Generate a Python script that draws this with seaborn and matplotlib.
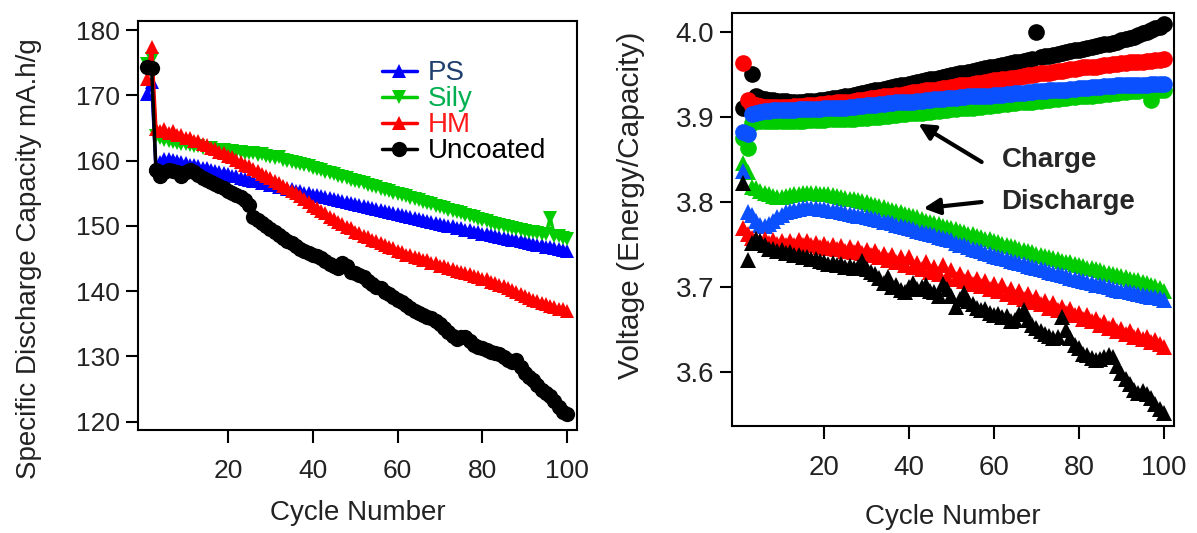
import matplotlib
matplotlib.use("Agg")
import matplotlib.pyplot as plt
import seaborn as sns
import pandas as pd

# ---------------- data ----------------
cycles = list(range(1, 101))

# Left panel: specific discharge capacity (mA.h/g)
ps_cap = [170.2, 172.0, 159.2, 159.8, 160.2, 160.3, 160.1, 160.0, 159.8, 159.6,
          159.4, 159.3, 159.1, 158.9, 158.8, 158.6, 158.4, 158.3, 158.1, 157.9,
          157.7, 157.6, 157.4, 157.2, 157.1, 156.9, 156.8, 156.6, 156.5, 156.3,
          156.2, 156.0, 155.9, 155.7, 155.6, 155.4, 155.3, 155.1, 155.0, 154.8,
          154.7, 154.5, 154.4, 154.2, 154.1, 153.9, 153.8, 153.6, 153.5, 153.3,
          153.2, 153.0, 152.9, 152.7, 152.6, 152.4, 152.3, 152.1, 152.0, 151.8,
          151.7, 151.5, 151.4, 151.2, 151.1, 150.9, 150.8, 150.6, 150.5, 150.3,
          150.2, 150.0, 149.9, 149.7, 149.6, 149.4, 149.3, 149.1, 149.0, 148.8,
          148.7, 148.6, 148.4, 148.3, 148.2, 148.0, 147.9, 147.8, 147.6, 147.5,
          147.4, 147.2, 147.1, 147.0, 146.8, 146.7, 146.6, 146.4, 146.3, 146.1]
sily_cap = [174.8, 175.5, 163.8, 163.4, 163.2, 163.0, 162.9, 162.7, 162.6, 162.5,
            162.4, 162.2, 162.2, 162.0, 161.9, 161.9, 161.7, 161.7, 161.6, 161.5,
            161.5, 161.3, 161.3, 161.2, 161.1, 161.1, 160.9, 161.0, 160.7, 160.6,
            160.4, 160.6, 160.1, 159.9, 159.8, 159.6, 159.5, 159.3, 159.1, 158.9,
            158.7, 158.5, 158.3, 158.1, 157.9, 157.7, 157.5, 157.3, 157.1, 156.9,
            156.7, 156.5, 156.3, 156.1, 155.9, 155.7, 155.5, 155.3, 155.1, 154.9,
            154.7, 154.5, 154.3, 154.1, 153.9, 153.7, 153.5, 153.3, 153.1, 152.9,
            152.7, 152.5, 152.3, 152.1, 151.9, 151.7, 151.5, 151.3, 151.1, 150.9,
            150.7, 150.5, 150.3, 150.1, 149.9, 149.8, 149.6, 149.5, 149.3, 149.2,
            149.1, 149.0, 148.9, 148.8, 148.7, 151.2, 148.5, 148.4, 148.2, 148.0]
hm_cap = [172.5, 177.4, 164.9, 164.6, 164.8, 164.3, 164.5, 163.9, 164.0, 163.5,
          163.5, 163.0, 163.0, 162.5, 162.4, 161.9, 161.8, 161.3, 161.2, 160.7,
          160.5, 160.1, 159.8, 159.4, 159.1, 158.7, 158.4, 158.0, 157.7, 157.3,
          156.9, 156.6, 156.1, 155.8, 155.3, 155.0, 154.5, 154.1, 153.6, 153.1,
          152.7, 152.3, 151.9, 151.4, 151.1, 150.6, 150.3, 149.8, 149.6, 149.1,
          148.9, 148.5, 148.3, 147.9, 147.7, 147.3, 147.1, 146.8, 146.6, 146.2,
          146.0, 145.6, 145.5, 145.2, 145.1, 144.7, 144.7, 144.3, 144.3, 143.9,
          143.8, 143.5, 143.4, 143.1, 143.0, 142.7, 142.6, 142.3, 142.2, 141.9,
          141.8, 141.4, 141.3, 140.9, 140.8, 140.4, 140.2, 139.8, 139.6, 139.2,
          139.0, 138.6, 138.5, 138.1, 138.0, 137.7, 137.6, 137.3, 137.2, 137.0]
unc_cap = [174.3, 174.2, 158.6, 157.7, 158.3, 158.6, 158.4, 158.2, 157.6, 158.3,
           158.5, 158.2, 157.8, 157.3, 157.0, 156.7, 156.4, 156.1, 155.8, 155.4,
           155.0, 154.7, 154.4, 153.9, 153.2, 151.3, 150.9, 150.5, 150.0, 149.5,
           149.0, 148.6, 148.1, 147.7, 147.3, 146.9, 146.4, 146.1, 145.8, 145.5,
           145.3, 145.1, 144.6, 144.2, 143.8, 143.6, 144.3, 143.9, 142.9, 142.7,
           142.4, 142.1, 141.6, 141.1, 140.7, 140.4, 139.9, 139.5, 139.1, 138.7,
           138.4, 137.9, 137.4, 137.0, 136.7, 136.4, 136.1, 135.8, 135.4, 134.9,
           134.3, 133.7, 133.1, 132.6, 132.9, 133.0, 132.3, 131.7, 131.4, 131.3,
           131.0, 130.7, 130.5, 130.3, 129.9, 129.4, 129.2, 129.4, 128.3, 127.5,
           126.9, 126.3, 125.6, 124.8, 124.3, 123.9, 123.2, 122.2, 121.4, 121.1]

# Right panel: average voltage (Energy/Capacity), charge
unc_chg = [3.910, 3.912, 3.950, 3.924, 3.922, 3.921, 3.920, 3.920, 3.919, 3.919,
           3.919, 3.918, 3.918, 3.918, 3.918, 3.919, 3.919, 3.919, 3.920, 3.920,
           3.921, 3.922, 3.922, 3.923, 3.924, 3.925, 3.926, 3.927, 3.928, 3.929,
           3.930, 3.931, 3.932, 3.933, 3.934, 3.935, 3.936, 3.937, 3.938, 3.939,
           3.940, 3.941, 3.942, 3.943, 3.944, 3.945, 3.946, 3.947, 3.948, 3.949,
           3.950, 3.951, 3.952, 3.953, 3.954, 3.955, 3.956, 3.957, 3.958, 3.959,
           3.960, 3.961, 3.962, 3.963, 3.964, 3.965, 3.966, 3.967, 3.968, 4.000,
           3.970, 3.971, 3.972, 3.973, 3.974, 3.975, 3.976, 3.977, 3.978, 3.979,
           3.980, 3.981, 3.982, 3.983, 3.984, 3.985, 3.986, 3.987, 3.988, 3.990,
           3.991, 3.993, 3.994, 3.996, 3.998, 4.000, 4.002, 4.004, 4.006, 4.009]
hm_chg = [3.963, 3.920, 3.913, 3.914, 3.913, 3.912, 3.912, 3.912, 3.912, 3.912,
          3.912, 3.912, 3.913, 3.913, 3.913, 3.914, 3.914, 3.914, 3.915, 3.915,
          3.916, 3.916, 3.917, 3.917, 3.918, 3.918, 3.919, 3.920, 3.920, 3.921,
          3.922, 3.922, 3.923, 3.924, 3.924, 3.925, 3.926, 3.926, 3.927, 3.928,
          3.929, 3.929, 3.930, 3.931, 3.931, 3.932, 3.933, 3.934, 3.934, 3.935,
          3.936, 3.937, 3.937, 3.938, 3.939, 3.940, 3.940, 3.941, 3.942, 3.943,
          3.943, 3.944, 3.945, 3.946, 3.946, 3.947, 3.948, 3.949, 3.949, 3.950,
          3.951, 3.952, 3.952, 3.953, 3.954, 3.954, 3.955, 3.956, 3.956, 3.957,
          3.958, 3.958, 3.959, 3.959, 3.960, 3.961, 3.961, 3.962, 3.962, 3.963,
          3.963, 3.964, 3.964, 3.965, 3.965, 3.966, 3.966, 3.967, 3.967, 3.968]
ps_chg = [3.882, 3.880, 3.903, 3.905, 3.906, 3.907, 3.907, 3.908, 3.908, 3.908,
          3.908, 3.908, 3.908, 3.909, 3.909, 3.909, 3.909, 3.909, 3.909, 3.910,
          3.910, 3.910, 3.911, 3.911, 3.911, 3.912, 3.912, 3.913, 3.913, 3.914,
          3.914, 3.914, 3.915, 3.915, 3.916, 3.916, 3.917, 3.917, 3.918, 3.918,
          3.918, 3.919, 3.919, 3.920, 3.920, 3.921, 3.921, 3.921, 3.922, 3.922,
          3.922, 3.923, 3.923, 3.924, 3.924, 3.924, 3.925, 3.925, 3.925, 3.926,
          3.926, 3.926, 3.927, 3.927, 3.928, 3.928, 3.928, 3.929, 3.929, 3.930,
          3.930, 3.930, 3.931, 3.931, 3.932, 3.932, 3.932, 3.933, 3.933, 3.934,
          3.934, 3.934, 3.935, 3.935, 3.935, 3.936, 3.936, 3.936, 3.937, 3.937,
          3.937, 3.937, 3.938, 3.938, 3.938, 3.938, 3.939, 3.939, 3.939, 3.939]
sily_chg = [3.875, 3.864, 3.893, 3.895, 3.895, 3.895, 3.895, 3.895, 3.895, 3.895,
            3.895, 3.895, 3.895, 3.895, 3.895, 3.896, 3.896, 3.896, 3.896, 3.896,
            3.897, 3.897, 3.897, 3.897, 3.898, 3.898, 3.898, 3.899, 3.899, 3.899,
            3.900, 3.900, 3.900, 3.901, 3.901, 3.902, 3.902, 3.903, 3.903, 3.904,
            3.904, 3.905, 3.905, 3.906, 3.906, 3.907, 3.907, 3.908, 3.908, 3.909,
            3.909, 3.910, 3.910, 3.911, 3.911, 3.912, 3.912, 3.913, 3.913, 3.914,
            3.914, 3.915, 3.915, 3.916, 3.916, 3.917, 3.917, 3.918, 3.918, 3.919,
            3.919, 3.920, 3.920, 3.921, 3.921, 3.922, 3.922, 3.923, 3.923, 3.924,
            3.924, 3.925, 3.925, 3.926, 3.926, 3.927, 3.927, 3.928, 3.928, 3.929,
            3.929, 3.930, 3.930, 3.930, 3.931, 3.931, 3.920, 3.931, 3.932, 3.932]

# Right panel: discharge
sily_dis = [3.846, 3.835, 3.818, 3.816, 3.813, 3.811, 3.809, 3.807, 3.806, 3.806,
            3.807, 3.808, 3.809, 3.810, 3.811, 3.811, 3.811, 3.811, 3.810, 3.810,
            3.809, 3.808, 3.807, 3.806, 3.805, 3.804, 3.803, 3.802, 3.801, 3.800,
            3.798, 3.797, 3.795, 3.794, 3.792, 3.791, 3.789, 3.788, 3.786, 3.785,
            3.783, 3.782, 3.780, 3.778, 3.777, 3.775, 3.774, 3.772, 3.771, 3.769,
            3.768, 3.766, 3.765, 3.763, 3.762, 3.760, 3.759, 3.757, 3.756, 3.754,
            3.753, 3.751, 3.750, 3.748, 3.747, 3.745, 3.744, 3.742, 3.741, 3.739,
            3.738, 3.737, 3.735, 3.734, 3.733, 3.731, 3.730, 3.729, 3.727, 3.726,
            3.725, 3.723, 3.722, 3.721, 3.720, 3.718, 3.717, 3.716, 3.714, 3.713,
            3.712, 3.710, 3.709, 3.708, 3.706, 3.705, 3.703, 3.701, 3.699, 3.696]
ps_dis = [3.836, 3.788, 3.785, 3.778, 3.773, 3.772, 3.774, 3.778, 3.782, 3.785,
          3.788, 3.790, 3.791, 3.792, 3.793, 3.793, 3.793, 3.793, 3.792, 3.792,
          3.791, 3.790, 3.789, 3.788, 3.787, 3.786, 3.785, 3.784, 3.783, 3.782,
          3.781, 3.780, 3.779, 3.777, 3.776, 3.775, 3.773, 3.772, 3.771, 3.769,
          3.768, 3.766, 3.765, 3.764, 3.762, 3.761, 3.759, 3.758, 3.756, 3.755,
          3.752, 3.750, 3.749, 3.747, 3.745, 3.744, 3.742, 3.740, 3.739, 3.737,
          3.736, 3.734, 3.733, 3.731, 3.730, 3.728, 3.727, 3.725, 3.724, 3.722,
          3.721, 3.720, 3.718, 3.717, 3.715, 3.714, 3.713, 3.711, 3.710, 3.708,
          3.707, 3.706, 3.705, 3.703, 3.702, 3.701, 3.700, 3.698, 3.697, 3.696,
          3.695, 3.694, 3.693, 3.692, 3.691, 3.690, 3.689, 3.688, 3.687, 3.685]
hm_dis = [3.770, 3.762, 3.758, 3.756, 3.754, 3.756, 3.752, 3.755, 3.751, 3.754,
          3.750, 3.754, 3.750, 3.755, 3.750, 3.754, 3.749, 3.752, 3.747, 3.751,
          3.746, 3.750, 3.745, 3.748, 3.743, 3.747, 3.741, 3.746, 3.740, 3.744,
          3.738, 3.742, 3.735, 3.739, 3.732, 3.738, 3.729, 3.735, 3.726, 3.736,
          3.724, 3.728, 3.721, 3.730, 3.718, 3.724, 3.715, 3.726, 3.712, 3.720,
          3.710, 3.716, 3.707, 3.712, 3.704, 3.710, 3.701, 3.707, 3.698, 3.704,
          3.695, 3.702, 3.692, 3.698, 3.689, 3.695, 3.686, 3.692, 3.683, 3.689,
          3.680, 3.684, 3.676, 3.681, 3.673, 3.677, 3.670, 3.674, 3.667, 3.670,
          3.663, 3.667, 3.660, 3.663, 3.656, 3.659, 3.652, 3.655, 3.649, 3.651,
          3.645, 3.648, 3.642, 3.644, 3.639, 3.641, 3.636, 3.638, 3.633, 3.630]
unc_dis = [3.822, 3.732, 3.752, 3.756, 3.754, 3.750, 3.745, 3.745, 3.742, 3.744,
           3.740, 3.741, 3.738, 3.738, 3.735, 3.736, 3.733, 3.733, 3.731, 3.730,
           3.727, 3.728, 3.726, 3.727, 3.724, 3.725, 3.723, 3.724, 3.731, 3.721,
           3.718, 3.716, 3.711, 3.705, 3.712, 3.700, 3.703, 3.697, 3.694, 3.700,
           3.705, 3.698, 3.700, 3.703, 3.696, 3.694, 3.690, 3.704, 3.698, 3.690,
           3.677, 3.686, 3.693, 3.684, 3.680, 3.676, 3.673, 3.674, 3.670, 3.667,
           3.668, 3.665, 3.666, 3.660, 3.662, 3.668, 3.673, 3.662, 3.655, 3.652,
           3.648, 3.645, 3.643, 3.640, 3.642, 3.665, 3.650, 3.640, 3.632, 3.628,
           3.622, 3.620, 3.617, 3.614, 3.616, 3.618, 3.620, 3.618, 3.608, 3.599,
           3.592, 3.586, 3.579, 3.576, 3.578, 3.575, 3.570, 3.563, 3.557, 3.552]

series_names = ["PS", "Sily", "HM", "Uncoated"]
left_xticks = [20, 40, 60, 80, 100]
left_yticks = [120, 130, 140, 150, 160, 170, 180]
right_yticks = [3.6, 3.7, 3.8, 3.9, 4.0]
right_yticklabels = ["3.6", "3.7", "3.8", "3.9", "4.0"]

# ---------------- style ----------------
sns.set_theme(style="white")
plt.rcParams["font.family"] = ["Liberation Sans", "DejaVu Sans"]

fig = plt.figure(figsize=(11.97, 5.33), dpi=100)
ax1 = fig.add_axes([0.1150, 0.1932, 0.3673, 0.7674])
ax2 = fig.add_axes([0.6118, 0.2008, 0.3690, 0.7742])

BLUE_L, GREEN, RED, BLACK = "#0000ff", "#00cc00", "#ff0000", "#000000"
BLUE_R = "#0a50ff"

# ---------------- left panel ----------------
left = [(ps_cap, BLUE_L, "^", 10.5), (sily_cap, GREEN, "v", 10.5),
        (hm_cap, RED, "^", 10.5), (unc_cap, BLACK, "o", 11)]
for name, (vals, col, mk, ms) in zip(series_names, left):
    df = pd.DataFrame({"cycle": cycles, "val": vals})
    sns.lineplot(data=df, x="cycle", y="val", ax=ax1, color=col, marker=mk,
                 markersize=ms, markeredgewidth=0, lw=2.5, label=name, legend=False)

ax1.set_xlim(-1.3, 102.4)
ax1.set_ylim(118.7, 181.4)
ax1.set_xticks(left_xticks)
ax1.set_yticks(left_yticks)
ax1.set_xlabel("Cycle Number", fontsize=20)
ax1.set_ylabel("Specific Discharge Capacity mA.h/g", fontsize=20)
ax1.xaxis.set_label_coords(0.501, -0.171)
ax1.yaxis.set_label_coords(-0.2177, 0.42)

leg = ax1.legend(loc="upper left", bbox_to_anchor=(0.556, 0.904), frameon=False,
                 fontsize=20, handlelength=1.25, handletextpad=0.4,
                 labelspacing=0.0, borderpad=0, borderaxespad=0)
for t, c in zip(leg.get_texts(), ["#1f3f6e", "#00b050", "#ff1a1a", "black"]):
    t.set_color(c)

# ---------------- right panel ----------------
charge = [(unc_chg, BLACK), (hm_chg, RED), (sily_chg, GREEN), (ps_chg, BLUE_R)]
for vals, col in charge:
    df = pd.DataFrame({"cycle": cycles, "val": vals})
    sns.lineplot(data=df, x="cycle", y="val", ax=ax2, color=col, marker="o",
                 markersize=12, markeredgewidth=0, lw=0, legend=False)
discharge = [(sily_dis, GREEN), (ps_dis, BLUE_R), (hm_dis, RED), (unc_dis, BLACK)]
for vals, col in discharge:
    df = pd.DataFrame({"cycle": cycles, "val": vals})
    sns.lineplot(data=df, x="cycle", y="val", ax=ax2, color=col, marker="^",
                 markersize=12, markeredgewidth=0, lw=0, legend=False)

ax2.set_xlim(-1.6, 102.4)
ax2.set_ylim(3.537, 4.0216)
ax2.set_xticks(left_xticks)
ax2.set_yticks(right_yticks)
ax2.set_yticklabels(right_yticklabels)
ax2.set_xlabel("Cycle Number", fontsize=20)
ax2.set_ylabel("Voltage (Energy/Capacity)", fontsize=21.5)
ax2.xaxis.set_label_coords(0.5, -0.189)
ax2.yaxis.set_label_coords(-0.198, 0.535)

ax2.text(61.8, 3.849, "Charge", fontsize=20, fontweight="bold", va="center", ha="left")
ax2.text(61.8, 3.800, "Discharge", fontsize=20, fontweight="bold", va="center", ha="left")
arrow = dict(arrowstyle="-|>", lw=3, color="black", mutation_scale=24, shrinkA=0, shrinkB=0)
ax2.annotate("", xy=(42.2, 3.892), xytext=(57.1, 3.847), arrowprops=arrow)
ax2.annotate("", xy=(43.4, 3.7926), xytext=(57.1, 3.800), arrowprops=arrow)

for ax, lsize in ((ax1, 19), (ax2, 20)):
    for s in ax.spines.values():
        s.set_visible(True)
        s.set_color("black")
        s.set_linewidth(1.5)
    ax.tick_params(axis="both", direction="out", length=9, width=1.5,
                   color="black", labelsize=lsize, labelcolor="#222222",
                   bottom=True, left=True)
    ax.tick_params(axis="y", pad=4)
    ax.tick_params(axis="x", pad=12)
    ax.xaxis.label.set_color("#222222")
    ax.yaxis.label.set_color("#222222")
    ax.grid(False)

fig.savefig("out.png", dpi=100, facecolor="white")
